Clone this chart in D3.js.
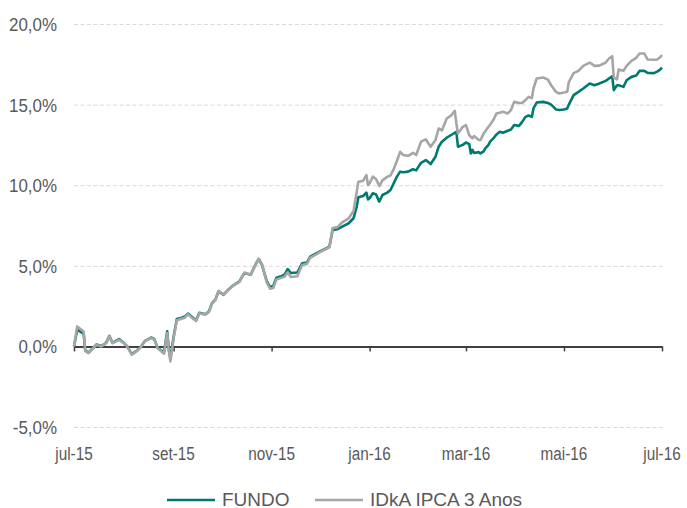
<!DOCTYPE html>
<html lang="pt">
<head>
  <meta charset="UTF-8" />
  <title>FUNDO x IDkA IPCA 3 Anos</title>
  <script src="https://cdn.jsdelivr.net/npm/d3@7"></script>
  <style>
    body { margin: 0; background: #ffffff; }
    text { font-family: "Liberation Sans", Arial, sans-serif; font-size: 18px; fill: #595959; }
  </style>
</head>
<body>
<script>

const WIDTH = 687;
const HEIGHT = 508;

// data (cumulative return, %)
var dates = [
  "2015-07-01","2015-07-03","2015-07-07","2015-07-08","2015-07-10","2015-07-13","2015-07-15","2015-07-18",
  "2015-07-21","2015-07-23","2015-07-25","2015-07-29","2015-08-01","2015-08-03","2015-08-06","2015-08-09",
  "2015-08-12","2015-08-14","2015-08-18","2015-08-20","2015-08-22","2015-08-26","2015-08-28","2015-08-29",
  "2015-08-30","2015-09-01","2015-09-03","2015-09-06","2015-09-08","2015-09-10","2015-09-13","2015-09-15",
  "2015-09-17","2015-09-21","2015-09-23","2015-09-25","2015-09-27","2015-09-29","2015-10-02","2015-10-05",
  "2015-10-08","2015-10-12","2015-10-15","2015-10-19","2015-10-22","2015-10-24","2015-10-26","2015-10-29",
  "2015-10-31","2015-11-02","2015-11-04","2015-11-07","2015-11-09","2015-11-11","2015-11-13","2015-11-17",
  "2015-11-20","2015-11-23","2015-11-25","2015-11-29","2015-12-03","2015-12-07","2015-12-09","2015-12-12",
  "2015-12-15","2015-12-19","2015-12-22","2015-12-24","2015-12-25","2015-12-28","2015-12-30","2015-12-31",
  "2016-01-01","2016-01-03","2016-01-05","2016-01-07","2016-01-09","2016-01-12","2016-01-14","2016-01-16",
  "2016-01-18","2016-01-20","2016-01-22","2016-01-25","2016-01-28","2016-01-30","2016-02-02","2016-02-05",
  "2016-02-08","2016-02-11","2016-02-13","2016-02-15","2016-02-18","2016-02-21","2016-02-23","2016-02-24",
  "2016-02-25","2016-02-28","2016-03-01","2016-03-03","2016-03-04","2016-03-05","2016-03-06","2016-03-09",
  "2016-03-10","2016-03-12","2016-03-13","2016-03-15","2016-03-16","2016-03-18","2016-03-20","2016-03-22",
  "2016-03-24","2016-03-27","2016-03-29","2016-03-31","2016-04-03","2016-04-05","2016-04-07","2016-04-09",
  "2016-04-11","2016-04-12","2016-04-14","2016-04-18","2016-04-21","2016-04-23","2016-04-26","2016-04-28",
  "2016-05-01","2016-05-03","2016-05-04","2016-05-07","2016-05-10","2016-05-13","2016-05-17","2016-05-20",
  "2016-05-23","2016-05-27","2016-05-29","2016-05-31","2016-06-01","2016-06-03","2016-06-04","2016-06-07",
  "2016-06-09","2016-06-12","2016-06-15","2016-06-17","2016-06-20","2016-06-22","2016-06-26","2016-06-28",
  "2016-06-30","2016-07-01"
];
var fundo = [
  0.00, 1.03, 0.80, -0.25, -0.38, -0.10, 0.12, 0.02,
  0.22, 0.65, 0.22, 0.45, 0.22, 0.02, -0.48, -0.28,
  0.02, 0.33, 0.55, 0.45, -0.08, -0.38, 0.93, -0.20,
  -0.75, 0.60, 1.70, 1.78, 1.85, 2.04, 1.78, 1.62,
  2.08, 2.00, 2.18, 2.70, 2.90, 3.42, 3.20, 3.52,
  3.78, 4.04, 4.55, 4.45, 5.08, 5.42, 5.06, 4.05,
  3.68, 3.75, 4.26, 4.36, 4.45, 4.79, 4.55, 4.58,
  5.16, 5.20, 5.57, 5.78, 5.99, 6.19, 7.23, 7.27,
  7.43, 7.64, 7.95, 8.67, 9.25, 9.33, 9.54, 9.12,
  9.19, 9.50, 9.42, 8.98, 9.39, 9.54, 9.70, 10.12,
  10.53, 10.84, 10.80, 10.84, 10.99, 10.92, 11.39, 11.56,
  11.31, 11.77, 12.39, 12.70, 12.95, 13.13, 13.25, 13.31,
  12.39, 12.50, 12.65, 12.55, 11.97, 12.20, 12.00, 12.05,
  11.97, 12.10, 12.28, 12.50, 12.70, 12.90, 13.15, 13.31,
  13.25, 13.38, 13.45, 13.73, 13.68, 13.93, 14.24, 14.32,
  14.24, 14.76, 15.13, 15.17, 15.10, 15.00, 14.70, 14.66,
  14.70, 14.76, 15.00, 15.59, 15.79, 16.00, 16.31, 16.20,
  16.31, 16.47, 16.62, 16.76, 15.90, 16.20, 16.20, 16.10,
  16.51, 16.72, 16.80, 17.09, 17.09, 16.97, 16.95, 17.05,
  17.18, 17.30
];
var idka = [
  0.00, 1.24, 0.93, -0.30, -0.41, -0.10, 0.10, 0.00,
  0.20, 0.62, 0.20, 0.41, 0.20, 0.00, -0.51, -0.30,
  0.00, 0.31, 0.52, 0.42, -0.10, -0.45, 0.82, -0.25,
  -0.93, 0.50, 1.62, 1.72, 1.78, 2.00, 1.72, 1.58,
  2.05, 1.97, 2.15, 2.66, 2.88, 3.45, 3.22, 3.50,
  3.75, 4.00, 4.58, 4.44, 5.06, 5.45, 5.10, 3.95,
  3.58, 3.62, 4.15, 4.25, 4.32, 4.60, 4.30, 4.35,
  5.05, 5.12, 5.50, 5.72, 5.95, 6.15, 7.35, 7.40,
  7.70, 7.95, 8.40, 9.60, 10.22, 10.28, 10.63, 10.01,
  10.12, 10.53, 10.38, 9.95, 10.30, 10.53, 10.60, 11.00,
  11.50, 12.07, 11.87, 11.82, 12.01, 11.87, 12.70, 12.84,
  12.39, 12.80, 13.52, 13.40, 14.14, 14.35, 14.61, 13.83,
  13.21, 13.62, 13.73, 13.11, 13.00, 12.90, 13.05, 12.80,
  12.80, 13.21, 13.35, 13.62, 13.75, 14.04, 14.45, 14.50,
  14.55, 14.45, 14.66, 15.17, 15.10, 15.10, 15.28, 15.48,
  15.40, 16.00, 16.62, 16.68, 16.55, 16.20, 15.79, 15.69,
  15.75, 15.80, 16.40, 16.95, 17.09, 17.40, 17.61, 17.40,
  17.42, 17.61, 17.86, 18.00, 16.68, 16.56, 17.18, 17.10,
  17.40, 17.71, 17.90, 18.17, 18.17, 17.80, 17.78, 17.80,
  17.95, 18.08
];
var yTicks = [-5, 0, 5, 10, 15, 20];
var xTicks = ["2015-07-01","2015-09-01","2015-11-01","2016-01-01","2016-03-01","2016-05-01","2016-07-01"];
var monthNames = ["jan","fev","mar","abr","mai","jun","jul","ago","set","out","nov","dez"];
var seriesNames = ["FUNDO", "IDkA IPCA 3 Anos"];
var seriesColors = ["#007a70", "#a6a6a6"];

var parse = d3.timeParse("%Y-%m-%d");
var ptBR = d3.formatLocale({decimal: ",", thousands: ".", grouping: [3], currency: ["R$", ""], minus: "-"});
var pct = ptBR.format(".1f");

// squeeze a text horizontally so it reads like the narrow face of the original
function narrow(sel, k) {
    sel.each(function() {
        var w = this.getComputedTextLength();
        d3.select(this)
            .attr("textLength", w * k)
            .attr("lengthAdjust", "spacingAndGlyphs");
    });
}

var svg = d3.select("body")
    .append("svg")
        .attr("width", WIDTH)
        .attr("height", HEIGHT);

const xScale = d3.scaleTime()
    .domain([parse(xTicks[0]), parse(xTicks[xTicks.length - 1])])
    .range([74, 662]);
const yScale = d3.scaleLinear()
    .domain([-5, 20])
    .range([427, 24]);

// grid + y labels
svg.append("g")
    .attr("transform", "translate(74,0)")
    .call(
        d3.axisLeft(yScale)
            .tickValues(yTicks)
            .tickSize(-589)
            .tickPadding(17)
            .tickFormat(d => pct(d) + "%")
    )
    .call(g => g.select(".domain").remove())
    .call(g => g.selectAll(".tick line")
        .attr("stroke", "#d9d9d9")
        .attr("stroke-dasharray", "4,2.5")
        .attr("stroke-width", 1))
    .call(g => g.selectAll(".tick text")
        .attr("font-family", null)
        .attr("font-size", null)
        .attr("fill", "#595959")
        .attr("dy", "0.36em")
        .call(narrow, 0.94));

// x axis on the zero line, labels at the bottom
var xAxis = svg.append("g")
    .attr("transform", `translate(0,${yScale(0)})`)
    .call(
        d3.axisBottom(xScale)
            .tickValues(xTicks.map(parse))
            .tickSizeInner(5)
            .tickSizeOuter(0)
            .tickFormat("")
    );
xAxis.select(".domain").attr("stroke", "#404040").attr("stroke-width", 2);
xAxis.selectAll(".tick line").attr("stroke", "#404040").attr("stroke-width", 1.5);

svg.append("g").selectAll("text")
    .data(xTicks.map(parse))
    .enter().append("text")
        .attr("x", d => xScale(d))
        .attr("y", 459.5)
        .attr("text-anchor", "middle")
        .text(d => monthNames[d.getMonth()] + "-" + String(d.getFullYear()).slice(2))
        .call(narrow, 0.85);

// lines
var line = d3.line()
    .x(d => xScale(d.date))
    .y(d => yScale(d.value));

[fundo, idka].forEach(function(values, i) {
    var pts = values.map((v, j) => ({date: parse(dates[j]), value: v}));
    svg.append("path")
        .datum(pts)
        .attr("fill", "none")
        .attr("stroke", seriesColors[i])
        .attr("stroke-width", 2.6)
        .attr("stroke-linejoin", "round")
        .attr("d", line);
});

// legend
var legendX = [167, 315];
var legend = svg.append("g").selectAll("g")
    .data(seriesNames)
    .enter().append("g")
        .attr("transform", (d, i) => `translate(${legendX[i]},500)`);
legend.append("line")
    .attr("x1", 0).attr("x2", 48)
    .attr("stroke", (d, i) => seriesColors[i])
    .attr("stroke-width", 2.5);
legend.append("text")
    .attr("x", 55)
    .attr("y", 5.5)
    .style("font-size", "19px")
    .text(d => d);

</script>
</body>
</html>
